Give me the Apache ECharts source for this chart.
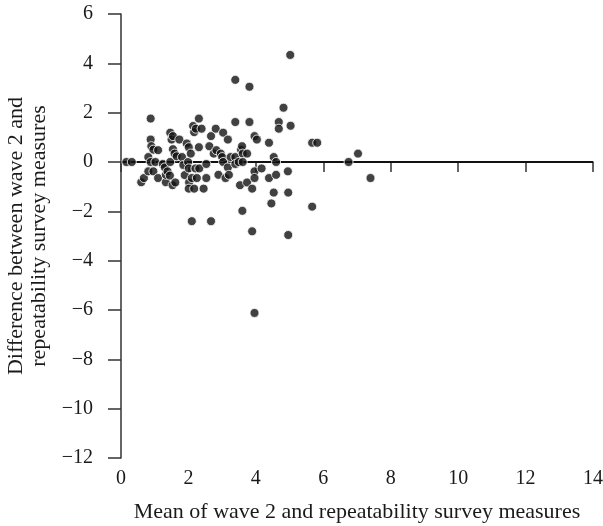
<!DOCTYPE html>
<html>
<head>
<meta charset="utf-8">
<script src="https://cdn.jsdelivr.net/npm/echarts@6/dist/echarts.min.js"></script>
<style>
  html, body { margin: 0; padding: 0; background: #fff; }
  #chart { width: 603px; height: 526px; }
</style>
</head>
<body>
<div id="chart"></div>
<script>
// Mean of the two measures (x) and their difference (y)
const meanValues = [
  0.16, 0.32, 0.60, 0.68, 0.88, 0.88, 0.90, 0.96, 0.81, 0.88,
  0.81, 0.96, 1.02, 1.10, 1.10, 1.24, 1.30, 1.33, 1.33, 1.38,
  1.45, 1.46, 1.46, 1.50, 1.54, 1.53, 1.61, 1.54, 1.59, 1.65,
  1.73, 1.81, 1.85, 1.89, 1.95, 2.01, 1.99, 2.01, 2.02, 2.01,
  2.10, 2.07, 2.14, 2.17, 2.22, 2.10, 2.17, 2.21, 2.25, 2.31,
  2.31, 2.32, 2.39, 2.45, 2.53, 2.53, 2.62, 2.67, 2.67, 2.75,
  2.81, 2.83, 2.89, 2.96, 3.00, 3.03, 3.03, 3.10, 3.17, 3.17,
  3.20, 3.25, 3.39, 3.39, 3.39, 3.39, 3.49, 3.53, 3.56, 3.59,
  3.61, 3.60, 3.61, 3.74, 3.74, 3.81, 3.81, 3.89, 3.89, 3.96,
  3.96, 3.96, 3.96, 4.03, 4.17, 4.39, 4.39, 4.46, 4.53, 4.53,
  4.60, 4.60, 4.68, 4.68, 4.82, 4.95, 4.96, 4.96, 5.02, 5.03,
  5.67, 5.67, 5.82, 6.75, 7.03, 7.40
];
const diffValues = [
  0.00, 0.00, -0.82, -0.65, 1.76, 0.91, 0.64, 0.50, 0.20, 0.00,
  -0.38, -0.38, 0.00, 0.48, -0.65, -0.08, -0.22, -0.82, -0.52, -0.38,
  -0.55, 1.19, 0.00, 0.91, 1.05, -0.94, -0.83, 0.52, 0.34, 0.23,
  0.91, 0.20, -0.12, -0.53, 0.75, 0.60, 0.00, -0.26, -0.83, -1.08,
  -2.40, 0.34, 1.46, 1.21, 1.35, -0.65, -1.08, -0.26, -0.65, 1.76,
  0.60, -0.26, 1.35, -1.08, -0.08, -0.65, 0.64, 1.05, -2.40, 0.34,
  1.35, 0.48, -0.52, 0.34, 0.20, 1.19, 0.00, -0.65, 0.91, -0.22,
  -0.52, 0.20, 3.33, 1.62, 0.20, -0.08, 0.00, -0.94, 0.50, 0.64,
  0.34, -1.98, 0.00, 0.34, -0.83, 3.05, 1.62, -1.08, -2.81, 1.05,
  -0.38, -0.65, -6.12, 0.91, -0.26, 0.78, -0.65, -1.68, 0.20, -1.24,
  -0.52, 0.00, 1.62, 1.35, 2.20, -0.38, -1.24, -2.96, 4.34, 1.47,
  0.78, -1.81, 0.78, 0.00, 0.34, -0.65
];
// Reference line of zero difference
const zeroLineX = [0, 14];
const zeroLineY = [0, 0];

const xTicks = [0, 2, 4, 6, 8, 10, 12, 14];
const yTicks = [-12, -10, -8, -6, -4, -2, 0, 2, 4, 6];

const points = meanValues.map((x, i) => [x, diffValues[i]]);
const zeroLine = zeroLineX.map((x, i) => [x, zeroLineY[i]]);

const serif = '"Liberation Serif", "DejaVu Serif", serif';
const axisColor = '#333';
const textColor = '#1a1a1a';

const chart = echarts.init(document.getElementById('chart'), null, { renderer: 'canvas' });
chart.setOption({
  backgroundColor: '#fff',
  animation: false,
  grid: {
    left: 121, right: 10, top: 14, bottom: 68,
    containLabel: false,
    outerBoundsMode: 'none'
  },
  xAxis: {
    type: 'value',
    min: xTicks[0],
    max: xTicks[xTicks.length - 1],
    interval: 2,
    name: 'Mean of wave 2 and repeatability survey measures',
    nameLocation: 'middle',
    nameGap: 43,
    nameTextStyle: { fontFamily: serif, fontSize: 22, color: textColor },
    axisLine: { show: true, lineStyle: { color: axisColor, width: 1.5 } },
    axisTick: { show: true, length: 10, lineStyle: { color: axisColor, width: 1.5 } },
    axisLabel: { fontFamily: serif, fontSize: 20, color: textColor, margin: 11 },
    splitLine: { show: false }
  },
  yAxis: {
    type: 'value',
    min: yTicks[0],
    max: yTicks[yTicks.length - 1],
    interval: 2,
    name: 'Difference between wave 2 and\nrepeatability survey measures',
    nameLocation: 'middle',
    nameGap: 70,
    nameRotate: 90,
    nameTextStyle: { fontFamily: serif, fontSize: 22, color: textColor, lineHeight: 23 },
    axisLine: { show: true, onZero: false, lineStyle: { color: axisColor, width: 1.5 } },
    axisTick: { show: true, length: 13, lineStyle: { color: axisColor, width: 1.5 } },
    axisLabel: {
      fontFamily: serif, fontSize: 20, color: textColor, margin: 28,
      formatter: v => (v < 0 ? '\u2212' + Math.abs(v) : String(v))
    },
    splitLine: { show: false }
  },
  series: [
    {
      type: 'line',
      data: zeroLine,
      symbol: 'none',
      lineStyle: { color: '#111', width: 2 },
      z: 1
    },
    {
      type: 'scatter',
      data: points,
      symbol: 'circle',
      symbolSize: 9,
      itemStyle: { color: '#111', borderColor: '#fff', borderWidth: 1 },
      z: 2
    }
  ]
});
</script>
</body>
</html>
